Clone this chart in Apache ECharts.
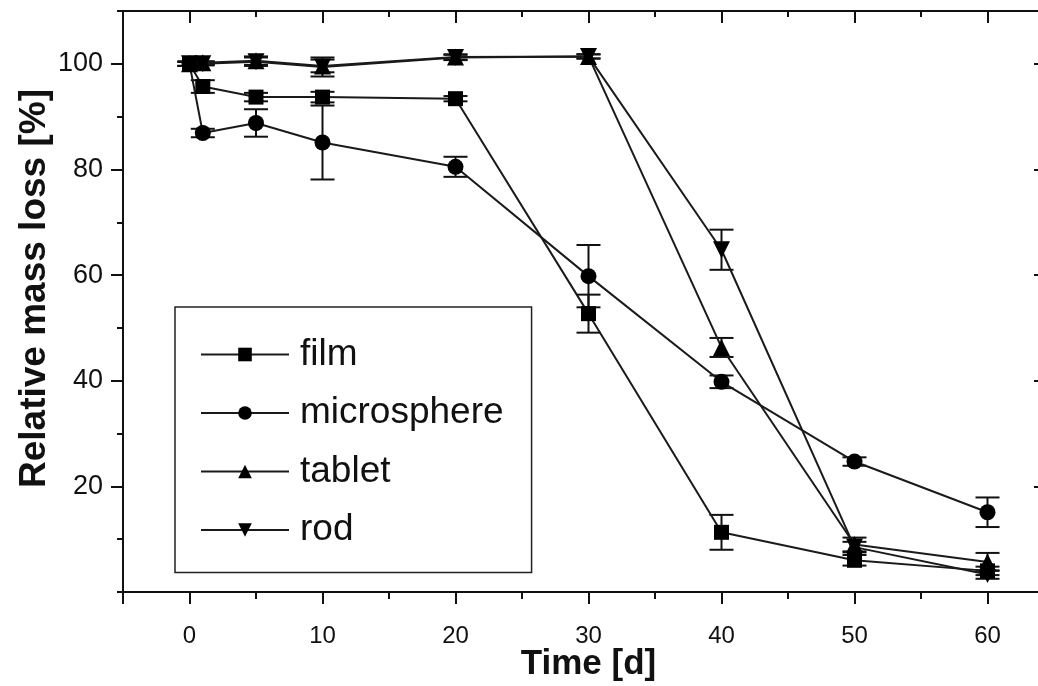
<!DOCTYPE html>
<html>
<head>
<meta charset="utf-8">
<script src="https://cdn.jsdelivr.net/npm/echarts@6/dist/echarts.min.js"></script>
<style>
  html, body { margin: 0; padding: 0; background: #fff; }
  #chart { width: 1038px; height: 686px; }
</style>
</head>
<body>
<div id="chart"></div>
<script>
// Sampling days
const days = [0, 1, 5, 10, 20, 30, 40, 50, 60];

// Relative mass remaining (%) and standard deviations per dosage form
const filmValues = [100, 95.7, 93.7, 93.7, 93.4, 52.7, 11.3, 6.0, 4.0];
const filmErrors = [0.4, 1.2, 0.8, 1.0, 0.5, 3.6, 3.3, 1.0, 0.8];

const microsphereValues = [100, 86.9, 88.8, 85.1, 80.5, 59.8, 39.8, 24.7, 15.1];
const microsphereErrors = [0.4, 0.8, 2.6, 7.0, 1.9, 5.9, 1.2, 0.8, 2.8];

const tabletValues = [100, 100.2, 100.6, 99.6, 101.3, 101.4, 46.3, 9.0, 5.7];
const tabletErrors = [0.4, 0.3, 0.8, 1.2, 0.5, 0.4, 1.8, 1.3, 1.7];

const rodValues = [100, 100, 100.4, 99.4, 101.2, 101.4, 64.8, 8.5, 3.3];
const rodErrors = [0.4, 0.3, 0.8, 1.8, 0.5, 0.4, 3.8, 1.0, 0.8];

// Axis ticks and labels
const xLabelValues = [0, 10, 20, 30, 40, 50, 60];
const xMajorTicks = [-5, 0, 10, 20, 30, 40, 50, 60, 65];
const xMinorTicks = [5, 15, 25, 35, 45, 55];
const yLabelValues = [20, 40, 60, 80, 100];
const yMajorTicks = [20, 40, 60, 80, 100];
const yMinorTicks = [0, 10, 30, 50, 70, 90, 110];

const X_MIN = -5, X_MAX = 65, Y_MIN = 0, Y_MAX = 110;

const groups = [
  { name: 'film', values: filmValues, errors: filmErrors, symbol: 'rect', size: 15, rotate: 0 },
  { name: 'microsphere', values: microsphereValues, errors: microsphereErrors, symbol: 'circle', size: 16, rotate: 0 },
  { name: 'tablet', values: tabletValues, errors: tabletErrors, symbol: 'triangle', size: 17, rotate: 0 },
  { name: 'rod', values: rodValues, errors: rodErrors, symbol: 'triangle', size: 17, rotate: 180 }
];

const INK = '#111';
const FONT = "'Liberation Sans', Arial, sans-serif";

function tickAxis(base, extra) {
  return Object.assign({
    type: 'value', min: base.min, max: base.max,
    splitLine: { show: false },
    axisLine: { show: true, onZero: false, lineStyle: { color: INK, width: 2 } },
    axisLabel: { show: false },
    axisTick: { show: false }
  }, extra);
}

const xBase = { min: X_MIN, max: X_MAX };
const yBase = { min: Y_MIN, max: Y_MAX };

const xAxes = [
  tickAxis(xBase, {
    position: 'bottom',
    name: 'Time [d]', nameLocation: 'middle', nameGap: 55, nameMoveOverlap: false,
    nameTextStyle: { fontFamily: FONT, fontWeight: 'bold', fontSize: 35, color: INK },
    axisTick: { show: true, inside: false, length: 12, customValues: xMajorTicks, lineStyle: { color: INK, width: 2 } },
    axisLabel: { show: true, customValues: xLabelValues, margin: 32, fontFamily: FONT, fontSize: 24, color: INK }
  }),
  tickAxis(xBase, {
    position: 'bottom',
    axisTick: { show: true, inside: false, length: 7, customValues: xMinorTicks, lineStyle: { color: INK, width: 2 } }
  }),
  tickAxis(xBase, {
    position: 'top',
    axisTick: { show: true, inside: true, length: 12, customValues: xLabelValues, lineStyle: { color: INK, width: 2 } }
  }),
  tickAxis(xBase, {
    position: 'top',
    axisTick: { show: true, inside: true, length: 6, customValues: xMinorTicks, lineStyle: { color: INK, width: 2 } }
  })
];

const yAxes = [
  tickAxis(yBase, {
    position: 'left',
    name: 'Relative mass loss [%]', nameLocation: 'middle', nameGap: 70, nameMoveOverlap: false,
    nameTextStyle: { fontFamily: FONT, fontWeight: 'bold', fontSize: 37, color: INK, padding: [0, 0, 0, 26] },
    axisTick: { show: true, inside: false, length: 12, customValues: yMajorTicks, lineStyle: { color: INK, width: 2 } },
    axisLabel: { show: true, customValues: yLabelValues, margin: 20, fontFamily: FONT, fontSize: 27, color: INK }
  }),
  tickAxis(yBase, {
    position: 'left',
    axisTick: { show: true, inside: false, length: 6, customValues: yMinorTicks, lineStyle: { color: INK, width: 2 } }
  }),
  tickAxis(yBase, {
    position: 'right',
    axisTick: { show: true, inside: true, length: 20, customValues: yMajorTicks, lineStyle: { color: INK, width: 2 } }
  })
];

// Error bars: vertical whisker with horizontal caps
function errorSeries(g) {
  const rows = days.map((d, i) => [d, g.values[i] - g.errors[i], g.values[i] + g.errors[i]]);
  return {
    type: 'custom',
    name: g.name + '-err',
    xAxisIndex: 0, yAxisIndex: 0,
    data: rows,
    z: 2,
    silent: true,
    renderItem: function (params, api) {
      const lo = api.coord([api.value(0), api.value(1)]);
      const hi = api.coord([api.value(0), api.value(2)]);
      const cap = 12;
      const style = { stroke: INK, lineWidth: 2 };
      return {
        type: 'group',
        children: [
          { type: 'line', shape: { x1: lo[0], y1: lo[1], x2: hi[0], y2: hi[1] }, style: style },
          { type: 'line', shape: { x1: lo[0] - cap, y1: lo[1], x2: lo[0] + cap, y2: lo[1] }, style: style },
          { type: 'line', shape: { x1: hi[0] - cap, y1: hi[1], x2: hi[0] + cap, y2: hi[1] }, style: style }
        ]
      };
    }
  };
}

function lineSeries(g) {
  return {
    type: 'line',
    name: g.name,
    xAxisIndex: 0, yAxisIndex: 0,
    data: days.map((d, i) => [d, g.values[i]]),
    symbol: g.symbol,
    symbolSize: g.size,
    symbolRotate: g.rotate,
    showAllSymbol: true,
    z: 3,
    lineStyle: { color: '#1a1a1a', width: 2 },
    itemStyle: { color: '#000' },
    emphasis: { disabled: true },
    animation: false
  };
}

const series = [];
groups.forEach(g => series.push(errorSeries(g)));
groups.forEach(g => series.push(lineSeries(g)));

const chart = echarts.init(document.getElementById('chart'), null, { renderer: 'canvas' });
chart.setOption({
  backgroundColor: '#fff',
  animation: false,
  grid: { left: 123, top: 11, width: 931, height: 581, containLabel: false, outerBoundsMode: 'none' },
  xAxis: xAxes,
  yAxis: yAxes,
  legend: {
    data: groups.map(g => g.name),
    orient: 'vertical',
    left: 175, top: 307,
    padding: [29, 28, 24, 25],
    itemGap: 21.5,
    itemWidth: 88,
    itemHeight: 17,
    borderColor: '#222',
    borderWidth: 1.5,
    backgroundColor: '#fff',
    selectedMode: false,
    textStyle: { fontFamily: FONT, fontSize: 37, color: INK, padding: [0, 0, 0, 6] }
  },
  series: series
});
</script>
</body>
</html>
